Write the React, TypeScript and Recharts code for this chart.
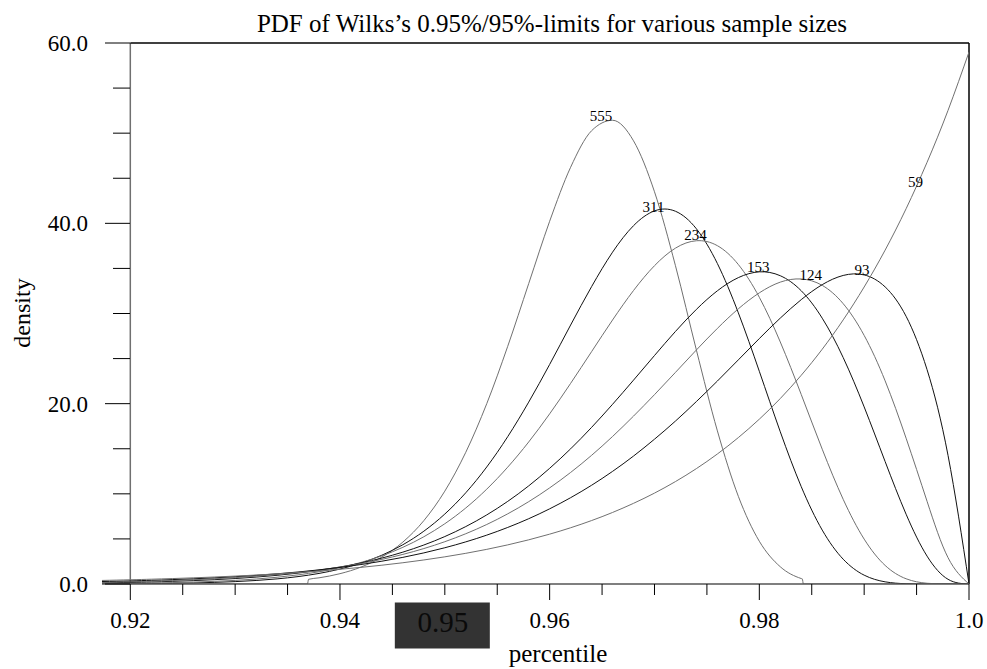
import React from 'react';
import { ComposedChart, Line, XAxis, YAxis, ReferenceLine, ReferenceDot } from 'recharts';

// percentile grid shared by the n = 59 ... 311 curves
const percentile = [
  0.9173, 0.92, 0.922, 0.924, 0.926, 0.928, 0.93, 0.932, 0.934, 0.936, 0.938,
  0.94, 0.942, 0.944, 0.946, 0.948, 0.95, 0.952, 0.954, 0.956, 0.958, 0.96,
  0.962, 0.964, 0.966, 0.968, 0.97, 0.972, 0.974, 0.976, 0.978, 0.98, 0.982,
  0.984, 0.986, 0.988, 0.99, 0.992, 0.994, 0.996, 0.998, 1.0,
];

const d59 = [
  0.395, 0.468, 0.531, 0.602, 0.683, 0.774, 0.877, 0.993, 1.125, 1.273, 1.441,
  1.631, 1.844, 2.086, 2.358, 2.666, 3.012, 3.403, 3.843, 4.339, 4.898, 5.528,
  6.237, 7.036, 7.934, 8.946, 10.08, 11.36, 12.8, 14.42, 16.24, 18.28, 20.57,
  23.15, 26.04, 29.29, 32.94, 37.03, 41.62, 46.77, 52.53, 59.0,
];
const d93 = [
  0.274, 0.347, 0.412, 0.489, 0.58, 0.686, 0.812, 0.959, 1.131, 1.332, 1.567,
  1.841, 2.159, 2.529, 2.956, 3.45, 4.019, 4.672, 5.419, 6.272, 7.24, 8.336,
  9.572, 10.95, 12.49, 14.19, 16.06, 18.07, 20.24, 22.51, 24.86, 27.22, 29.49,
  31.54, 33.2, 34.22, 34.28, 32.95, 29.69, 23.77, 14.26, 0,
];
const d124 = [
  0.185, 0.247, 0.306, 0.377, 0.465, 0.571, 0.7, 0.857, 1.047, 1.275, 1.549,
  1.877, 2.268, 2.733, 3.283, 3.931, 4.69, 5.575, 6.6, 7.781, 9.129, 10.66,
  12.37, 14.27, 16.36, 18.62, 21.0, 23.47, 25.96, 28.35, 30.52, 32.29, 33.48,
  33.83, 33.12, 31.09, 27.57, 22.53, 16.17, 9.17, 2.92, 0,
];
const d153 = [
  0.129, 0.181, 0.232, 0.296, 0.377, 0.479, 0.606, 0.766, 0.963, 1.208, 1.51,
  1.879, 2.33, 2.876, 3.535, 4.324, 5.262, 6.37, 7.663, 9.163, 10.88, 12.83,
  14.99, 17.37, 19.93, 22.61, 25.34, 28.01, 30.46, 32.52, 33.98, 34.62, 34.19,
  32.52, 29.48, 25.11, 19.64, 13.58, 7.74, 3.09, 0.52, 0,
];
const d234 = [
  0.048, 0.077, 0.108, 0.152, 0.211, 0.292, 0.402, 0.55, 0.748, 1.011, 1.356,
  1.806, 2.388, 3.13, 4.069, 5.24, 6.683, 8.431, 10.52, 12.96, 15.75, 18.87,
  22.25, 25.77, 29.28, 32.55, 35.3, 37.25, 38.07, 37.52, 35.43, 31.8, 26.84,
  21.01, 14.95, 9.39, 4.98, 2.06, 0.58, 0.08, 0, 0,
];
const d311 = [
  0.019, 0.034, 0.052, 0.079, 0.12, 0.179, 0.265, 0.39, 0.568, 0.82, 1.172,
  1.657, 2.315, 3.196, 4.356, 5.857, 7.76, 10.12, 12.98, 16.34, 20.17, 24.35,
  28.72, 32.98, 36.8, 39.74, 41.38, 41.34, 39.39, 35.54, 30.07, 23.59, 16.88,
  10.79, 5.98, 2.75, 0.98, 0.24, 0.03, 0, 0, 0,
];

// n = 555 is cut off at both ends, so it has its own grid
const percentile555 = [
  0.9173, 0.9369, 0.937, 0.938, 0.94, 0.942, 0.944, 0.946, 0.948, 0.95, 0.952,
  0.954, 0.956, 0.958, 0.96, 0.962, 0.964, 0.966, 0.968, 0.97, 0.972, 0.974,
  0.976, 0.978, 0.98, 0.982, 0.984, 0.9841, 0.9842, 1.0,
];
const density555 = [
  0, 0, 0.523, 0.683, 1.144, 1.874, 2.992, 4.651, 7.028, 10.3, 14.61, 20.0,
  26.36, 33.31, 40.23, 46.22, 50.27, 51.43, 49.15, 43.5, 35.3, 25.93, 16.98,
  9.72, 4.74, 1.91, 0.604, 0.566, 0, 0,
];

// curve labels (sample size written near each peak)
const labelText = ['555', '311', '234', '153', '124', '93', '59'];
const labelX = [0.9649, 0.9699, 0.9739, 0.9799, 0.9849, 0.9898, 0.9949];
const labelY = [51.3, 41.3, 38.1, 34.6, 33.7, 34.3, 44.0];

const xTicks = [
  0.92, 0.925, 0.93, 0.935, 0.94, 0.945, 0.95, 0.955, 0.96, 0.965, 0.97, 0.975,
  0.98, 0.985, 0.99, 0.995, 1.0,
];
const xMajor = [0.92, 0.94, 0.96, 0.98, 1.0];
const xMajorText = ['0.92', '0.94', '0.96', '0.98', '1.0'];
const highlightX = 0.95;

const yTicks = [0, 5, 10, 15, 20, 25, 30, 35, 40, 45, 50, 55, 60];
const yMajor = [0, 20, 40, 60];

const FONT = '"Liberation Serif", "Times New Roman", Times, serif';
const GRAY = '#707070';
const BLACK = '#111111';

const rows = percentile.map((x, i) => ({
  x,
  d59: d59[i],
  d93: d93[i],
  d124: d124[i],
  d153: d153[i],
  d234: d234[i],
  d311: d311[i],
}));
const rows555 = percentile555.map((x, i) => ({ x, d555: density555[i] }));

const same = (a: number, b: number) => Math.abs(a - b) < 1e-9;

const XTick = (props: any) => {
  const { x, y, payload } = props;
  const v = payload.value;
  const idx = xMajor.findIndex((m) => same(m, v));
  const major = idx >= 0;
  return (
    <g>
      <line x1={x} x2={x} y1={y} y2={y + (major ? 16 : 11)} stroke="#000" strokeWidth={1} />
      {major && (
        <text x={x} y={y + 44} textAnchor="middle" fontFamily={FONT} fontSize={23} fill="#000">
          {xMajorText[idx]}
        </text>
      )}
      {same(v, highlightX) && (
        <g>
          <rect x={x - 50} y={y + 18.5} width={95} height={46} fill="#333333" />
          <text x={x - 2} y={y + 48} textAnchor="middle" fontFamily={FONT} fontSize={29} fill="#0a0a0a">
            {v.toFixed(2)}
          </text>
        </g>
      )}
    </g>
  );
};

// y axis sits at 0.92, i.e. 28px right of the plot's left edge
const YTick = (props: any) => {
  const { x, y, payload } = props;
  const v = payload.value;
  const major = yMajor.includes(v);
  const axisX = x + 28;
  return (
    <g>
      <line x1={axisX - (major ? 25 : 17)} x2={axisX} y1={y} y2={y} stroke="#000" strokeWidth={1} />
      {major && (
        <text x={x - 14} y={y} dy="0.35em" textAnchor="end" fontFamily={FONT} fontSize={23} fill="#000">
          {v.toFixed(1)}
        </text>
      )}
    </g>
  );
};

const curveLabel = (text: string) => (p: any) => (
  <text x={p.cx} y={p.cy} textAnchor="middle" fontFamily={FONT} fontSize={15} fill="#000">
    {text}
  </text>
);

export default function App() {
  return (
    <div style={{ position: 'absolute', left: 0, top: 0, width: 987, height: 669, background: '#fff' }}>
      <ComposedChart width={987} height={669} data={rows} margin={{ top: 43, right: 18, bottom: 0, left: 0 }}>
        <XAxis
          dataKey="x"
          type="number"
          domain={[0.9173, 1.0]}
          allowDataOverflow
          ticks={xTicks}
          interval={0}
          height={85}
          tickSize={0}
          tickMargin={0}
          tickLine={false}
          axisLine={{ stroke: '#555', strokeWidth: 1.5 }}
          tick={<XTick />}
        />
        <YAxis
          type="number"
          domain={[0, 60]}
          allowDataOverflow
          ticks={yTicks}
          interval={0}
          width={102}
          tickSize={0}
          tickMargin={0}
          tickLine={false}
          axisLine={false}
          tick={<YTick />}
        />
        <ReferenceLine x={0.92} stroke={GRAY} strokeWidth={1.5} />
        <ReferenceLine x={1.0} stroke="#000" strokeWidth={1.5} />
        <ReferenceLine segment={[{ x: 0.92, y: 60 }, { x: 1.0, y: 60 }]} stroke="#000" strokeWidth={1.5} />

        <Line data={rows555} dataKey="d555" type="monotone" stroke={GRAY} strokeWidth={1} dot={false} isAnimationActive={false} />
        <Line dataKey="d311" type="natural" stroke={BLACK} strokeWidth={1} dot={false} isAnimationActive={false} />
        <Line dataKey="d234" type="natural" stroke={GRAY} strokeWidth={1} dot={false} isAnimationActive={false} />
        <Line dataKey="d153" type="natural" stroke={BLACK} strokeWidth={1} dot={false} isAnimationActive={false} />
        <Line dataKey="d124" type="natural" stroke={GRAY} strokeWidth={1} dot={false} isAnimationActive={false} />
        <Line dataKey="d93" type="natural" stroke={BLACK} strokeWidth={1} dot={false} isAnimationActive={false} />
        <Line dataKey="d59" type="natural" stroke={GRAY} strokeWidth={1} dot={false} isAnimationActive={false} />

        {labelText.map((t, i) => (
          <ReferenceDot key={t} x={labelX[i]} y={labelY[i]} r={0} ifOverflow="visible" shape={curveLabel(t)} />
        ))}
      </ComposedChart>
      <svg width={987} height={669} style={{ position: 'absolute', left: 0, top: 0, pointerEvents: 'none' }}>
        <text x={552} y={32} textAnchor="middle" fontFamily={FONT} fontSize={25} fill="#000">
          PDF of Wilks’s 0.95%/95%-limits for various sample sizes
        </text>
        <text x={558} y={662} textAnchor="middle" fontFamily={FONT} fontSize={25} fill="#000">
          percentile
        </text>
        <text x={22} y={313} textAnchor="middle" dy="0.35em" fontFamily={FONT} fontSize={24} fill="#000" transform="rotate(-90 22 313)">
          density
        </text>
      </svg>
    </div>
  );
}
